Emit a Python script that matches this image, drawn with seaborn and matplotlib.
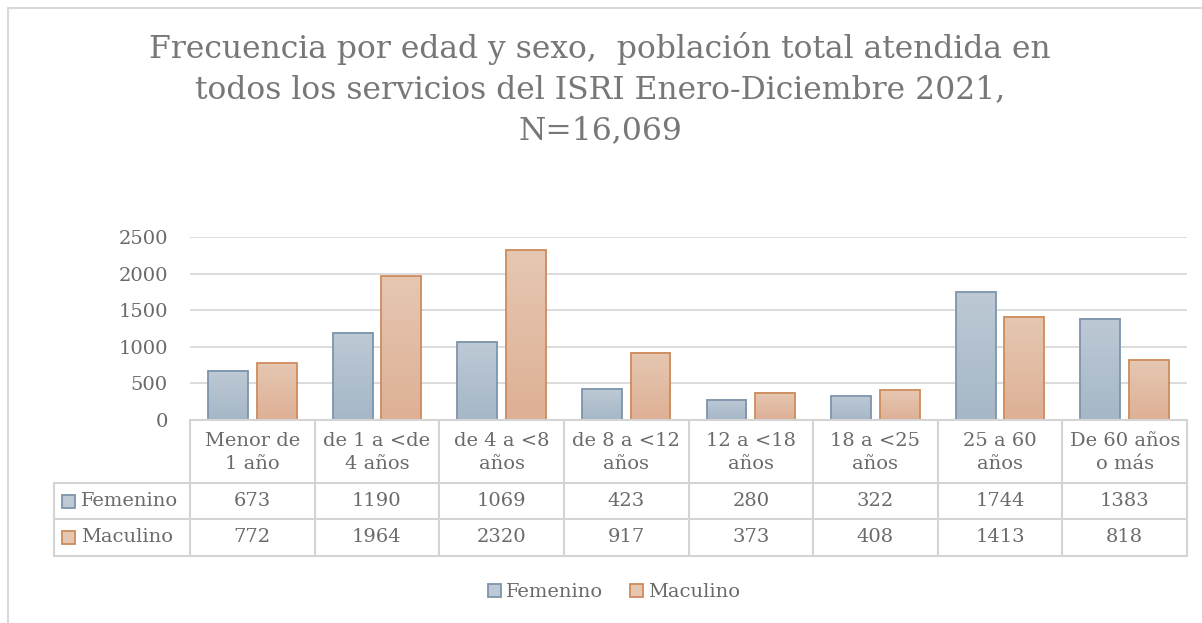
import numpy as np
import pandas as pd
import matplotlib
matplotlib.use("Agg")
import matplotlib.pyplot as plt
import matplotlib.transforms as mtransforms
from matplotlib.patches import Rectangle, Patch
import seaborn as sns

# ---------------- data ----------------
categorias = ["Menor de\n1 año", "de 1 a <de\n4 años", "de 4 a <8\naños", "de 8 a <12\naños",
              "12 a <18\naños", "18 a <25\naños", "25 a 60\naños", "De 60 años\no más"]
femenino = [673, 1190, 1069, 423, 280, 322, 1744, 1383]
masculino = [772, 1964, 2320, 917, 373, 408, 1413, 818]
series = ["Femenino", "Maculino"]
yticks = [0, 500, 1000, 1500, 2000, 2500]
titulo = ("Frecuencia por edad y sexo,  población total atendida en\n"
          "todos los servicios del ISRI Enero-Diciembre 2021,\nN=16,069")

df = pd.DataFrame({
    "cat": categorias * 2,
    "sexo": [series[0]] * len(categorias) + [series[1]] * len(categorias),
    "valor": femenino + masculino,
})

# ---------------- style ----------------
sns.set_theme(style="white")
FONT = ["DejaVu Serif"]
plt.rcParams["font.family"] = FONT
TXT = "#6a6a6a"
GRID = "#d9d9d9"
fem_top, fem_bot, fem_edge = (189, 201, 213), (166, 183, 199), "#7c94ab"
mas_top, mas_bot, mas_edge = (230, 199, 177), (222, 176, 150), "#cd8b5c"

W, H = 1202, 623
fig = plt.figure(figsize=(W / 100, H / 100), dpi=100)
fig.patch.set_facecolor("white")


def fx(px):
    return px / W


def fy(py):
    return 1 - py / H


x0, x1, ytop, ybase = 190, 1187, 237, 420
ax = fig.add_axes([fx(x0), fy(ybase), (x1 - x0) / W, (ybase - ytop) / H])

sns.barplot(data=df, x="cat", y="valor", hue="sexo", order=categorias,
            hue_order=series, palette=[fem_edge, mas_edge], width=0.78, gap=0.18,
            ax=ax, saturation=1, linewidth=1.3, edgecolor="black", errorbar=None)

if ax.legend_ is not None:
    ax.legend_.remove()


def grad(top, bot, n=64):
    t = np.linspace(0, 1, n)[:, None]
    a = np.array(top)[None, :] / 255
    b = np.array(bot)[None, :] / 255
    return (a * (1 - t) + b * t)[:, None, :]


nb = len(categorias)
for i, p in enumerate(ax.patches[:2 * nb]):
    is_fem = i < nb
    top, bot, edge = (fem_top, fem_bot, fem_edge) if is_fem else (mas_top, mas_bot, mas_edge)
    bx, by, bw, bh = p.get_x(), p.get_y(), p.get_width(), p.get_height()
    ax.imshow(grad(top, bot), extent=[bx, bx + bw, by, by + bh], aspect="auto",
              origin="upper", zorder=p.get_zorder() - 0.01, interpolation="bilinear")
    p.set_facecolor("none")
    p.set_edgecolor(edge)

ax.set_xlim(-0.5, nb - 0.5)
ax.set_ylim(0, 2500)
ax.set_yticks(yticks)
ax.set_yticklabels([str(v) for v in yticks], fontsize=14, color=TXT)
ax.tick_params(axis="y", length=0, pad=16)
ax.set_xticks([])
ax.set_xlabel("")
ax.set_ylabel("")
for s in ax.spines.values():
    s.set_visible(False)
ax.yaxis.grid(True, color=GRID, linewidth=1.3)
ax.set_axisbelow(True)
ax.set_facecolor("none")

# ---------------- overlay (table, border, title) ----------------
ov = fig.add_axes([0, 0, 1, 1], zorder=-1)
ov.set_xlim(0, W)
ov.set_ylim(H, 0)
ov.axis("off")
ov2 = fig.add_axes([0, 0, 1, 1], zorder=5)
ov2.set_xlim(0, W)
ov2.set_ylim(H, 0)
ov2.axis("off")
ov2.patch.set_alpha(0)

# chart border
ov.plot([8, 8], [8, H], color=GRID, lw=1.5)
ov.plot([8, W], [8, 8], color=GRID, lw=1.5)

# title
ov2.text(600, 89, titulo, ha="center", va="center", fontsize=22.6, color="#777777",
         linespacing=1.4, family=FONT)

blend = mtransforms.blended_transform_factory(ax.transData, ov2.transData)
LC = "#d4d4d4"
t_top, t_h, t_r1, t_bot = 420, 483, 519, 556
lx = 54
# verticals
for k in range(nb + 1):
    ov2.plot([k - 0.5, k - 0.5], [t_top, t_bot], color=LC, lw=1.5, transform=blend,
             clip_on=False)
ov2.plot([lx, lx], [t_h, t_bot], color=LC, lw=1.5)
# horizontals
ov2.plot([-0.5, nb - 0.5], [t_top, t_top], color=LC, lw=1.5, transform=blend, clip_on=False)
for yy in (t_h, t_r1, t_bot):
    ov2.plot([lx, x1], [yy, yy], color=LC, lw=1.5)

# header texts
for k, c in enumerate(categorias):
    ov2.text(k, (t_top + t_h) / 2 + 1, c, transform=blend, ha="center", va="center",
             fontsize=14, color=TXT, linespacing=1.3)
# rows
rows = [(femenino, (t_h + t_r1) / 2, fem_top, fem_edge, series[0]),
        (masculino, (t_r1 + t_bot) / 2, mas_top, mas_edge, series[1])]
for vals, yc, fc, ec, name in rows:
    for k, v in enumerate(vals):
        ov2.text(k, yc, str(v), transform=blend, ha="center", va="center",
                 fontsize=14, color=TXT)
    ov2.add_patch(Rectangle((62, yc - 6.5), 13, 13, facecolor=np.array(fc) / 255,
                            edgecolor=ec, lw=1.3))
    ov2.text(81, yc, name, ha="left", va="center", fontsize=14, color=TXT)

# legend
handles = [Patch(facecolor=np.array(fem_top) / 255, edgecolor=fem_edge, lw=1.3, label=series[0]),
           Patch(facecolor=np.array(mas_top) / 255, edgecolor=mas_edge, lw=1.3, label=series[1])]
leg = fig.legend(handles=handles, loc="center", bbox_to_anchor=(fx(614), fy(592)), ncol=2,
                 frameon=False, handlelength=0.65, handleheight=0.65, handletextpad=0.25,
                 columnspacing=1.4, prop={"family": FONT, "size": 14})
for t in leg.get_texts():
    t.set_color(TXT)

fig.savefig("out.png", dpi=100, facecolor="white")
